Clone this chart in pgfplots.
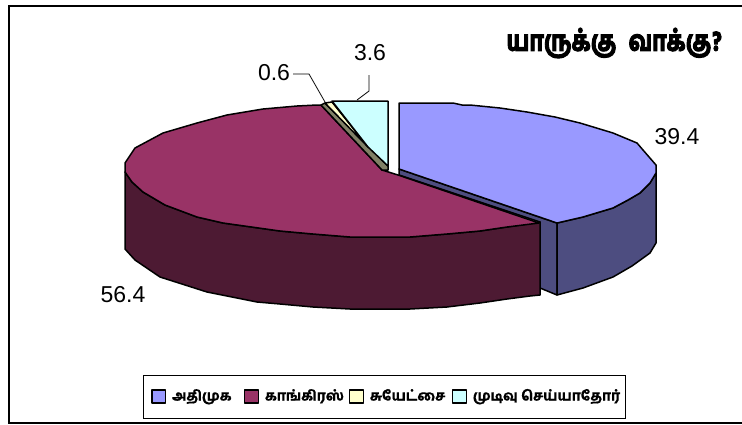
\documentclass[border=0pt]{standalone}
\usepackage{fontspec}
\usepackage{pgfplots}
\pgfplotsset{compat=1.18}
\setmainfont{Liberation Sans}
\newfontfamily\tamilfont[Script=Tamil,FakeBold=0.6]{Hind Madurai Bold}
\newfontfamily\tamilbold[Script=Tamil,FakeBold=4]{Hind Madurai Bold}
\definecolor{cblue}{HTML}{9999FF}
\definecolor{cbluew}{HTML}{4D4D80}
\definecolor{cmag}{HTML}{993366}
\definecolor{cmagw}{HTML}{4D1A33}
\definecolor{cyel}{HTML}{FFFFCC}
\definecolor{cyelw}{HTML}{808066}
\definecolor{ccya}{HTML}{CCFFFF}
\newcommand{\lab}[2]{\makebox[#1][l]{\hspace{6pt}\tamilfont\fontsize{14}{18}\selectfont #2}}
\begin{document}
\begin{tikzpicture}
\begin{axis}[
  width=742pt,height=424pt,scale only axis,hide axis,clip=false,
  xmin=0,xmax=742,ymin=0,ymax=424,y dir=reverse,
  legend columns=4,
  legend cell align=left,
  legend style={at={(axis cs:151,396.5)},anchor=west,draw=none,fill=none,
    inner xsep=0pt,inner ysep=0pt,
    nodes={inner sep=0pt,anchor=west,text height=11pt,text depth=3pt}},
  pie/.style={draw=black,line width=1.5pt,line join=round,mark=none},
  swatch/.style={area legend,legend image code/.code={\draw[##1,line width=1.3pt] (0.7pt,-6.5pt) rectangle (14.3pt,6.5pt);}},
]
\path[use as bounding box] (axis cs:0,0) rectangle (axis cs:742,424);
% frame
\addplot[black,line width=1.1pt,forget plot,mark=none] coordinates {(742,6)(9,6)(9,423)(742,423)};
% legend box
\addplot[black,line width=0.9pt,forget plot,mark=none] coordinates {(143,375)(625,375)(625,418)(143,418)(143,375)};
% blue slice: walls then top
\addplot[pie,fill=cbluew,forget plot] coordinates {(399,169)(557,223)(557,295)(540,288)(540,222)(399,175)} --cycle;
\addplot[pie,fill=cbluew,forget plot] coordinates {(557,223)(583,217)(613,208)(628,200)(640,193)(650,183)(656,173)(656,243)(650,253)(632,266)(613,277)(583,288)(557,295)} --cycle;
\addplot[pie,fill=cblue,swatch] coordinates {(399,103)(453,103)(462,105)(470,105)(500,108)(527,112)(555,117)(580,123)(613,133)(637,143)(643,150)(656,165)(656,173)(650,183)(640,193)(628,200)(613,208)(583,217)(557,223)(399,169)} --cycle;
\addlegendentry{\lab{78pt}{அதிமுக}}
% magenta slice
\addplot[pie,fill=cmagw,forget plot] coordinates {(125,172)(125,249)(135,260)(160,277)(207,292)(257,302)(280,304)(313,307)(350,309)(410,309)(447,307)(480,303)(507,299)(530,296)(540,295)(540,222)(507,227)(480,231)(447,234)(410,237)(350,237)(313,234)(280,231)(223,223)(197,217)(165,205)(143,192)(132,182)} --cycle;
\addplot[pie,fill=cmag,swatch] coordinates {(382,170)(398,175)(539,223)(507,227)(480,231)(447,234)(410,237)(350,237)(313,234)(280,231)(223,223)(197,217)(165,205)(143,192)(132,182)(125,172)(125,163)(135,148)(163,133)(197,123)(227,115)(263,109)(297,106)(317,105)(321,105)} --cycle;
\addlegendentry{\lab{90pt}{காங்கிரஸ்}}
% yellow slice
\addplot[pie,fill=cyelw,forget plot] coordinates {(321,105)(325,103)(388,166)(388,170)(382,170)} --cycle;
\addplot[pie,fill=cyel,swatch] coordinates {(325,103)(332,102)(368,147)} --cycle;
\addlegendentry{\lab{88pt}{சுயேட்சை}}
% cyan slice
\addplot[pie,fill=ccya,swatch] coordinates {(332,101)(388,101)(388,166)(368,147)} --cycle;
\addlegendentry{\lab{150pt}{முடிவு செய்யாதோர்}}
% leaders
\addplot[black,line width=0.8pt,forget plot,mark=none] coordinates {(293,74)(309,74)(325,102)};
\addplot[black,line width=0.8pt,forget plot,mark=none] coordinates {(369,75)(369,91)(357,100)};
% labels
\node[font=\fontsize{23}{26}\selectfont] at (axis cs:677,137) {39.4};
\node[font=\fontsize{23}{26}\selectfont] at (axis cs:123,295) {56.4};
\node[font=\fontsize{23}{26}\selectfont] at (axis cs:370,53) {3.6};
\node[font=\fontsize{23}{26}\selectfont] at (axis cs:274,73) {0.6};
\node[anchor=east,inner sep=0pt,transform shape,xscale=0.8] at (axis cs:722,43) {\tamilbold\fontsize{28}{32}\selectfont யாருக்கு\hspace{8pt} வாக்கு?};
\end{axis}
\end{tikzpicture}
\end{document}
